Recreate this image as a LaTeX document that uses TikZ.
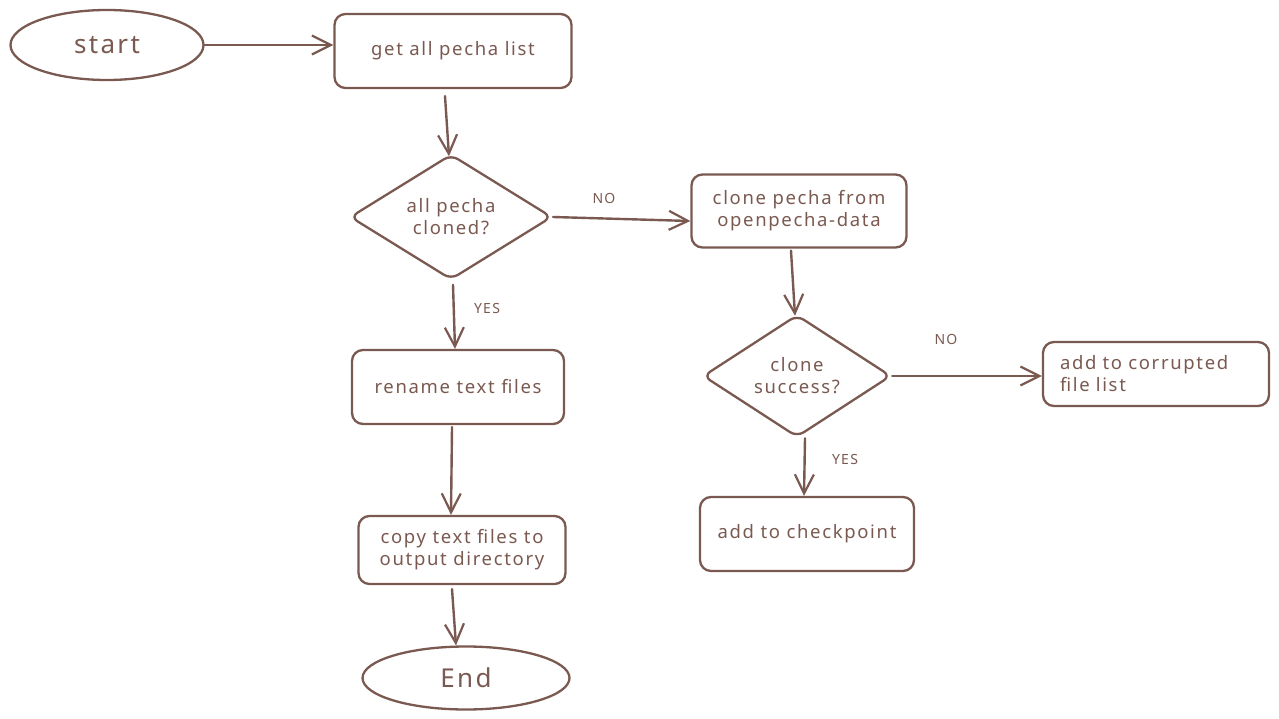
\documentclass[tikz,border=0pt]{standalone}
\usepackage{fontspec}
\setmainfont{Noto Sans}[LetterSpace=9]
\usetikzlibrary{shapes.geometric,arrows.meta}
\definecolor{ink}{RGB}{122,89,81}
\begin{document}
\begin{tikzpicture}[x=1pt,y=-1pt,
  every node/.style={text=ink,font=\fontsize{18.5}{22}\selectfont},
  base/.style={draw=ink,line width=2.3pt},
  term/.style={base,ellipse,inner sep=0pt,font=\fontsize{26}{30}\selectfont},
  proc/.style={base,rectangle,rounded corners=11pt,inner sep=4pt,align=center},
  cond/.style={base,diamond,rounded corners=8pt,inner sep=0pt,align=center},
  tag/.style={font=\fontsize{14}{16}\selectfont},
  flow/.style={draw=ink,line width=2.4pt,line cap=round,
    -{Straight Barb[length=19pt,width=19pt,line width=2.2pt]}}
]
\useasboundingbox (0,0) rectangle (1279,719);

% terminals
\node[term,minimum width=193pt,minimum height=70pt] (start) at (107,45) {start};
\node[term,minimum width=207pt,minimum height=63pt] (end) at (466,678) {End};

% process boxes
\node[proc,minimum width=237pt,minimum height=74pt] (list) at (453,51) {get all pecha list};
\node[proc,minimum width=215pt,minimum height=73pt] (clone) at (799,211) {clone pecha from\\openpecha-data};
\node[proc,minimum width=212pt,minimum height=74pt] (rename) at (458,387) {rename text files};
\node[proc,minimum width=207pt,minimum height=68pt] (copy) at (462,550) {copy text files to\\output directory};
\node[proc,minimum width=214pt,minimum height=74pt] (check) at (807,534) {add to checkpoint};
\node[proc,minimum width=226pt,minimum height=64pt,text width=192pt,inner xsep=17pt,align=left]
  (corrupt) at (1156,374) {add to corrupted\\file list};

% decisions
\node[cond,minimum width=202pt,minimum height=114pt] (allcloned) at (451,217) {all pecha\\cloned?};
\node[cond,minimum width=188pt,minimum height=115pt] (success) at (797,376) {clone\\success?};

% branch labels
\node[tag] (no1) at (604,198) {NO};
\node[tag] (yes1) at (487,309) {YES};
\node[tag] (no2) at (946,339) {NO};
\node[tag] (yes2) at (845,459) {YES};

% connectors
\draw[flow] (start.east) -- ([yshift=6pt]list.west);
\draw[flow] ([xshift=-8pt,yshift=-7pt]list.south) -- ([xshift=-2pt,yshift=-3pt]allcloned.north);
\draw[flow] (allcloned.east) -- ([yshift=-10pt]clone.west);
\draw[flow] ([xshift=2pt,yshift=-4pt]allcloned.south) -- ([xshift=-3pt]rename.north);
\draw[flow] ([xshift=-6pt,yshift=-2pt]rename.south) -- ([xshift=-11pt]copy.north);
\draw[flow] ([xshift=-10pt,yshift=-4pt]copy.south) -- ([xshift=-10pt]end.north);
\draw[flow] ([xshift=-8pt,yshift=-2pt]clone.south) -- ([xshift=-2pt,yshift=-2pt]success.north);
\draw[flow] (success.east) -- ([yshift=-2pt]corrupt.west);
\draw[flow] ([xshift=8pt]success.south) -- ([xshift=-3pt]check.north);
\end{tikzpicture}
\end{document}
